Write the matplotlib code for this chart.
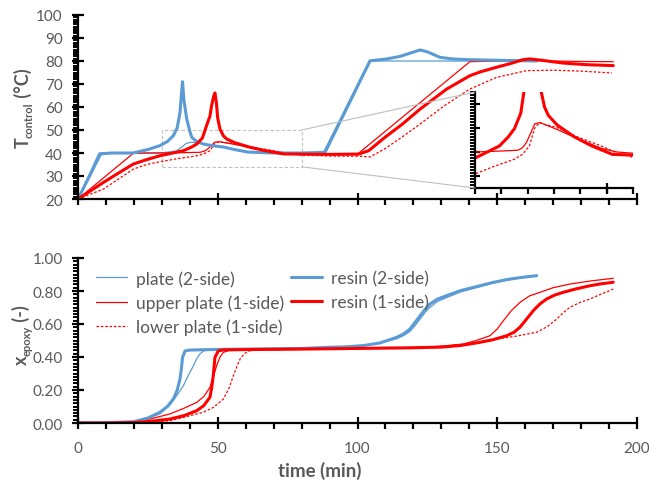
import matplotlib
matplotlib.use("Agg")
import matplotlib.pyplot as plt
from matplotlib.patches import Rectangle, ConnectionPatch
from matplotlib.ticker import MultipleLocator, NullFormatter, FixedLocator, FormatStrFormatter

plt.rcParams['font.family'] = ['Lato', 'DejaVu Sans']

BLUE = '#5B9BD5'
RED = '#FF0000'
GRAY = '#595959'

# ---------------- temperature data (top panel) ----------------
t_T_resin2 = [0, 8.1, 12, 19.7, 25, 29.3, 32, 34.1, 35.5, 36.5, 36.9, 37.4, 37.9, 38.9, 40, 40.7,
              42.5, 44.8, 48, 52, 56, 60.8, 70, 80, 88.4, 104.5, 110, 115.2, 119, 122.4, 125,
              129.5, 134, 139, 151, 164]
T_resin2 = [20, 39.6, 40, 40, 41.5, 43.2, 45, 47.5, 51, 57.7, 64, 71, 63, 54.8, 49.5, 46.8,
            45, 43.9, 43.2, 42.6, 41.5, 40.4, 40, 40, 40.3, 80.1, 80.8, 82, 83.5, 84.8, 84,
            81.6, 80.9, 80.6, 80.3, 80]

t_T_plate2 = [0, 7.5, 15, 30, 35, 37.1, 38.5, 40, 43.6, 45, 48, 52, 56, 60.8, 70, 80, 87.8, 104.2, 164]
T_plate2 = [20, 40, 40, 40.1, 40.8, 42.5, 44, 44.6, 44.6, 44.0, 43.2, 42.6, 41.5, 40.4, 40, 40, 40.2, 80, 80]

t_T_resin1 = [0, 9.1, 14.5, 19.8, 24.5, 29.3, 33.5, 37.7, 40.5, 42.5, 44.5, 46, 47.2, 47.8, 48.5,
              49.0, 49.5, 50.0, 50.8, 52, 53.2, 56, 61.5, 67, 73.5, 80, 90, 100.3, 104, 110, 116,
              122.4, 131.9, 140.2, 144, 149.8, 155, 159.3, 161.7, 166, 173.6, 182, 191.5]
T_resin1 = [20, 27.2, 31.3, 35.2, 37.1, 38.8, 39.9, 41, 42.5, 43.9, 46.5, 51.9, 56, 60.6, 64.5,
            66.1, 62, 55, 50.4, 47.5, 46.1, 44.5, 42.5, 41, 39.6, 39.5, 39.4, 39.5, 41, 47, 52.5,
            59.1, 67.8, 73.6, 75.3, 77.3, 79, 80.6, 80.9, 80.3, 79.1, 78.4, 78]

t_T_upper1 = [0, 19.8, 30, 40, 43.6, 45, 46.3, 47.5, 48.9, 50.5, 52, 55.8, 60, 65, 70, 75, 80, 90,
              100.3, 140.2, 150, 160, 170, 180, 191.5]
T_upper1 = [20, 39.9, 40, 40.2, 40.3, 40.7, 41.6, 43, 44.7, 44.9, 44.6, 43.8, 42.8, 41.7, 40.6, 40,
            39.8, 39.7, 39.8, 79.7, 80, 80.2, 80, 79.8, 79.7]

t_T_lower1 = [0, 9.1, 19.8, 24.5, 29.3, 36, 42.5, 45, 47.2, 48.9, 50.5, 52, 55.8, 62, 70, 75, 80,
              90, 100.5, 104.5, 110, 116, 122.4, 131, 140.2, 149.8, 160.5, 170, 180, 191]
T_lower1 = [20, 24.3, 33, 35, 36.2, 37.6, 38.8, 39.6, 41, 44.0, 44.9, 44.6, 44.1, 42.6, 41, 39.8,
            39.1, 38.7, 38.6, 38.3, 42, 47, 52.6, 60.5, 67.8, 72.9, 75.8, 76, 75.6, 74.8]

# ---------------- conversion data (bottom panel) ----------------
t_x_resin2 = [0, 10, 20, 25, 29.3, 32, 34.1, 35.5, 36.5, 37.0, 37.4, 38.3, 40, 50, 65, 80, 90.2,
              96, 102, 108, 114, 116.5, 118.8, 120.6, 122.4, 124.2, 125.9, 128.5, 131.9, 137,
              143.8, 148.5, 153.4, 158.5, 164.1]
x_resin2 = [0, 0.001, 0.008, 0.03, 0.065, 0.1, 0.145, 0.2, 0.267, 0.33, 0.398, 0.437, 0.442,
            0.446, 0.449, 0.452, 0.459, 0.462, 0.469, 0.485, 0.519, 0.54, 0.57, 0.61, 0.65,
            0.69, 0.721, 0.75, 0.772, 0.803, 0.832, 0.852, 0.869, 0.882, 0.893]

t_x_plate2 = [0, 10, 20, 25, 29.3, 32.9, 35.5, 37.7, 39.5, 41.3, 42.5, 43.6, 44.8, 46, 50, 65,
              80, 90.2, 96, 102, 108, 114, 116.5, 118.8, 120.6, 122.4, 124.2, 125.9, 128.5,
              131.9, 137, 143.8, 148.5, 153.4, 158.5, 164.1]
x_plate2 = [0, 0.001, 0.008, 0.028, 0.055, 0.11, 0.17, 0.226, 0.29, 0.347, 0.39, 0.418, 0.435,
            0.442, 0.446, 0.449, 0.452, 0.459, 0.462, 0.469, 0.485, 0.51, 0.53, 0.555, 0.59,
            0.63, 0.67, 0.70, 0.735, 0.76, 0.795, 0.826, 0.848, 0.866, 0.88, 0.891]

t_x_resin1 = [0, 10, 20, 26, 32.9, 38, 42.5, 45, 47.2, 47.8, 48.4, 49.0, 50.2, 52, 60, 80, 100,
              120, 130, 137, 143.8, 148.5, 153.4, 156, 158.1, 160.5, 162.9, 165.3, 167.7, 170.5,
              173.6, 178, 183.2, 187, 191.5]
x_resin1 = [0, 0.0, 0.003, 0.01, 0.024, 0.045, 0.075, 0.105, 0.156, 0.21, 0.287, 0.398, 0.437,
            0.443, 0.445, 0.448, 0.452, 0.456, 0.46, 0.47, 0.489, 0.505, 0.529, 0.55, 0.58,
            0.63, 0.681, 0.722, 0.752, 0.775, 0.792, 0.812, 0.832, 0.843, 0.853]

t_x_upper1 = [0, 10, 20, 26, 32.9, 38, 42.5, 45, 47.2, 48.4, 49.6, 50.8, 52, 54.4, 60, 80, 100,
              120, 130, 137.9, 142.5, 147.4, 150, 152.2, 155, 158.1, 161.5, 165.3, 170, 176,
              183, 191.5]
x_upper1 = [0, 0.001, 0.008, 0.025, 0.055, 0.09, 0.125, 0.16, 0.216, 0.28, 0.347, 0.4, 0.428,
            0.442, 0.445, 0.448, 0.452, 0.458, 0.465, 0.479, 0.5, 0.529, 0.57, 0.62, 0.68,
            0.731, 0.77, 0.792, 0.82, 0.842, 0.86, 0.877]

t_x_lower1 = [0, 10, 20, 26, 32.9, 38, 44.8, 48.5, 52, 54, 55.6, 57, 58, 59.5, 61.5, 65, 80,
              100, 120, 140, 149.8, 157, 164.1, 168, 171.3, 173.7, 176, 179.5, 183.2, 187, 191.5]
x_lower1 = [0, 0, 0.002, 0.006, 0.014, 0.035, 0.065, 0.095, 0.145, 0.21, 0.287, 0.35, 0.388,
            0.42, 0.438, 0.443, 0.446, 0.45, 0.455, 0.475, 0.509, 0.527, 0.55, 0.585, 0.63,
            0.67, 0.701, 0.73, 0.752, 0.78, 0.812]

labels = ['plate (2-side)', 'upper plate (1-side)', 'lower plate (1-side)',
          'resin (2-side)', 'resin (1-side)']

W, H = 649, 481
fig = plt.figure(figsize=(W / 100, H / 100), dpi=100)


def fr(x0, y0, x1, y1):
    return [x0 / W, 1 - y1 / H, (x1 - x0) / W, (y1 - y0) / H]


ax1 = fig.add_axes(fr(78, 16, 637, 200))
ax2 = fig.add_axes(fr(78, 259, 637, 424))
axi = fig.add_axes(fr(475, 93, 633, 189))

thin = 0.9
thick = 2.2
LS_KW = dict(solid_joinstyle='round', solid_capstyle='round', dash_joinstyle='round')
DASH = (0, (2, 1.5))
TICK_FS = 11


def draw_top(ax, with_blue=True):
    if with_blue:
        ax.plot(t_T_plate2, T_plate2, color=BLUE, lw=thin, **LS_KW)
    ax.plot(t_T_upper1, T_upper1, color=RED, lw=thin, **LS_KW)
    ax.plot(t_T_lower1, T_lower1, color=RED, lw=thin, ls=DASH, **LS_KW)
    if with_blue:
        ax.plot(t_T_resin2, T_resin2, color=BLUE, lw=thick, **LS_KW)
    ax.plot(t_T_resin1, T_resin1, color=RED, lw=thick, **LS_KW)


def style(ax):
    for s in ['top', 'right']:
        ax.spines[s].set_visible(False)
    for s in ['left', 'bottom']:
        ax.spines[s].set_linewidth(1.6)
        ax.spines[s].set_color('black')
    ax.tick_params(which='major', direction='inout', length=8, width=1.6, colors='black',
                   labelcolor=GRAY, labelsize=TICK_FS)
    ax.tick_params(which='minor', direction='out', length=4, width=1.6, colors='black')
    ax.tick_params(axis='y', which='minor', length=3.5, width=1.4)


draw_top(ax1)
ax1.set_xlim(0, 200)
ax1.set_ylim(20, 100)
style(ax1)
ax1.xaxis.set_major_locator(MultipleLocator(50))
ax1.xaxis.set_minor_locator(MultipleLocator(10))
ax1.yaxis.set_major_locator(MultipleLocator(10))
ax1.yaxis.set_minor_locator(MultipleLocator(1))
ax1.xaxis.set_major_formatter(NullFormatter())
ax1.tick_params(axis='y', pad=7)

ax2.plot(t_x_plate2, x_plate2, color=BLUE, lw=thin, label=labels[0], **LS_KW)
ax2.plot(t_x_upper1, x_upper1, color=RED, lw=thin, label=labels[1], **LS_KW)
ax2.plot(t_x_lower1, x_lower1, color=RED, lw=thin, ls=DASH, label=labels[2], **LS_KW)
ax2.plot(t_x_resin2, x_resin2, color=BLUE, lw=thick, label=labels[3], **LS_KW)
ax2.plot(t_x_resin1, x_resin1, color=RED, lw=thick, label=labels[4], **LS_KW)
ax2.set_xlim(0, 200)
ax2.set_ylim(0, 1)
style(ax2)
ax2.xaxis.set_major_locator(MultipleLocator(50))
ax2.xaxis.set_minor_locator(MultipleLocator(10))
ax2.yaxis.set_major_locator(MultipleLocator(0.2))
ax2.yaxis.set_minor_locator(MultipleLocator(0.02))
ax2.yaxis.set_major_formatter(FormatStrFormatter('%.2f'))
ax2.tick_params(axis='y', pad=7)
ax2.tick_params(axis='x', pad=9)
ax2.set_xlabel('time (min)', fontsize=13.5, fontweight='bold', color=GRAY)
ax2.xaxis.set_label_coords((320 - 78) / 559, -(462 - 424) / 165)

leg = ax2.legend(ncol=2, loc='upper left', bbox_to_anchor=(96 / W, 1 - 271 / H),
                 bbox_transform=fig.transFigure, frameon=False, fontsize=12.5,
                 labelcolor=GRAY, handlelength=1.8, handletextpad=0.5, columnspacing=0.4,
                 labelspacing=0.45, borderpad=0, borderaxespad=0)

# inset (1-side curves only)
axi.set_facecolor('white')
draw_top(axi, with_blue=False)
axi.set_xlim(30, 80)
axi.set_ylim(34, 50)
style(axi)
axi.xaxis.set_major_locator(FixedLocator([71.67]))
axi.xaxis.set_minor_locator(FixedLocator([30 + i * 50 / 6 for i in range(7)]))
axi.yaxis.set_major_locator(MultipleLocator(4))
axi.yaxis.set_minor_locator(MultipleLocator(0.5))
axi.xaxis.set_major_formatter(NullFormatter())
axi.yaxis.set_major_formatter(NullFormatter())
axi.tick_params(which='major', length=7)

# zoom rectangle and connectors
rect = Rectangle((30, 34), 50, 16, fill=False, ec='#BFBFBF', lw=0.8, ls=(0, (3, 2)))
ax1.add_patch(rect)
for (xa, ya), (xb, yb) in [((80, 50), (30, 50)), ((80, 34), (30, 34))]:
    cp = ConnectionPatch(xyA=(xa, ya), coordsA=ax1.transData, xyB=(xb, yb),
                         coordsB=axi.transData, color='#BFBFBF', lw=0.8)
    fig.add_artist(cp)

# rotated y labels with small subscripts, built from pieces
renderer = fig.canvas.get_renderer()


def vlabel(x_base, y_bottom, y_top, parts):
    objs = []
    total = 0
    for txt, size, shift in parts:
        t = fig.text(0, 0, txt, fontsize=size, fontweight='bold', color=GRAY, rotation=90,
                     rotation_mode='anchor', ha='left', va='baseline')
        h = t.get_window_extent(renderer).height
        objs.append((t, h, shift))
        total += h
    y = (y_bottom + y_top) / 2 - total / 2
    for t, h, shift in objs:
        t.set_position(((x_base + shift) / W, y / H))
        y += h


vlabel(29, H - 147, H - 70, [('T', 13, 0), ('control', 8, 4), (' (°C)', 13, 0)])
vlabel(27, H - 372, H - 298, [('x', 13, 0), ('epoxy', 8, 4), (' (-)', 13, 0)])

fig.savefig('out.png', dpi=100)
